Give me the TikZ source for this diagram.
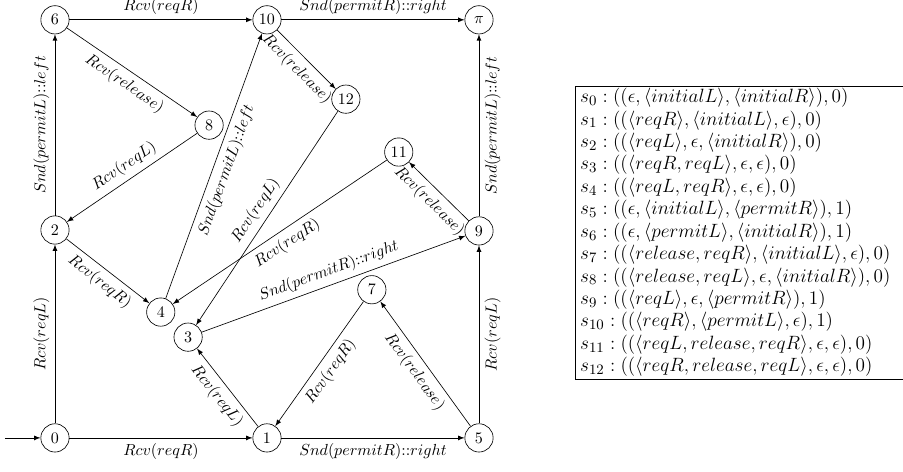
\documentclass[tikz,border=0pt]{standalone}
\begin{document}
\begin{tikzpicture}[>=latex, state/.style={draw, circle, minimum size=0.62cm, inner sep=1pt}]
    \useasboundingbox (-1.206,-0.746) rectangle (18.60,9.605);

    % States
    \node[state] (s0) at (0,0) {0};
    \node[state] (s1) at (4.65,0) {1};
    \node[state] (s5) at (9.30,0) {5};
    \node[state] (s2) at (0,4.56) {2};
    \node[state] (s9) at (9.30,4.54) {9};
    \node[state] (s6) at (0,9.17) {6};
    \node[state] (s10) at (4.65,9.17) {10};
    \node[state] (spi) at (9.30,9.17) {$\pi$};
    \node[state] (s8) at (3.38,6.86) {8};
    \node[state] (s12) at (6.38,7.43) {12};
    \node[state] (s11) at (7.54,6.27) {11};
    \node[state] (s4) at (2.32,2.76) {4};
    \node[state] (s3) at (2.92,2.21) {3};
    \node[state] (s7) at (6.95,3.25) {7};

    % Initial state
    \coordinate (init) at (-1.1,0);
    \draw[->] (init) -- (s0);

    % Transitions
    \draw[->] (s0) -- node[below] {$Rcv(reqR)$} (s1);
    \draw[->] (s1) -- node[below] {$Snd(permitR){:}{:}right$} (s5);
    \draw[->] (s0) -- node[above, sloped] {$Rcv(reqL)$} (s2);
    \draw[->] (s2) -- node[above, sloped] {$Snd(permitL){:}{:}left$} (s6);
    \draw[->] (s6) -- node[above] {$Rcv(reqR)$} (s10);
    \draw[->] (s10) -- node[above] {$Snd(permitR){:}{:}right$} (spi);
    \draw[->] (s5) -- node[below, sloped] {$Rcv(reqL)$} (s9);
    \draw[->] (s9) -- node[below, sloped] {$Snd(permitL){:}{:}left$} (spi);
    \draw[->] (s6) -- node[below, sloped] {$Rcv(release)$} (s8);
    \draw[->] (s8) -- node[above, sloped] {$Rcv(reqL)$} (s2);
    \draw[->] (s10) -- node[below, sloped] {$Rcv(release)$} (s12);
    \draw[->] (s12) -- node[above, sloped] {$Rcv(reqL)$} (s3);
    \draw[->] (s4) -- node[below, sloped] {$Snd(permitL){:}{:}left$} (s10);
    \draw[->] (s2) -- node[below, sloped] {$Rcv(reqR)$} (s4);
    \draw[->] (s11) -- node[below, sloped] {$Rcv(reqR)$} (s4);
    \draw[->] (s3) -- node[above, sloped] {$Snd(permitR){:}{:}right$} (s9);
    \draw[->] (s9) -- node[below, sloped] {$Rcv(release)$} (s11);
    \draw[->] (s1) -- node[below, sloped] {$Rcv(reqL)$} (s3);
    \draw[->] (s7) -- node[below, sloped] {$Rcv(reqR)$} (s1);
    \draw[->] (s5) -- node[below, sloped] {$Rcv(release)$} (s7);

    % State table
    \node[anchor=west, inner sep=0pt] (tab) at (11.40,4.50) {\fontsize{12.6}{14}\selectfont
    \begin{tabular}{|@{\hspace{3pt}}l@{\hspace{16pt}}|}
        \hline
        $s_{0}:((\epsilon, \langle initialL\rangle, \langle initialR\rangle), 0)$ \\
        $s_{1}:((\langle reqR\rangle, \langle initialL\rangle, \epsilon), 0)$ \\
        $s_{2}:((\langle reqL\rangle, \epsilon, \langle initialR\rangle), 0)$ \\
        $s_{3}:((\langle reqR, reqL\rangle, \epsilon, \epsilon), 0)$ \\
        $s_{4}:((\langle reqL, reqR\rangle, \epsilon, \epsilon), 0)$ \\
        $s_{5}:((\epsilon, \langle initialL\rangle, \langle permitR\rangle), 1)$ \\
        $s_{6}:((\epsilon, \langle permitL\rangle, \langle initialR\rangle), 1)$ \\
        $s_{7}:((\langle release, reqR\rangle, \langle initialL\rangle, \epsilon), 0)$ \\
        $s_{8}:((\langle release, reqL\rangle, \epsilon, \langle initialR\rangle), 0)$ \\
        $s_{9}:((\langle reqL\rangle, \epsilon, \langle permitR\rangle), 1)$ \\
        $s_{10}:((\langle reqR\rangle, \langle permitL\rangle, \epsilon), 1)$ \\
        $s_{11}:((\langle reqL, release, reqR\rangle, \epsilon, \epsilon), 0)$ \\
        $s_{12}:((\langle reqR, release, reqL\rangle, \epsilon, \epsilon), 0)$ \\
        \hline
    \end{tabular}};
\end{tikzpicture}
\end{document}
